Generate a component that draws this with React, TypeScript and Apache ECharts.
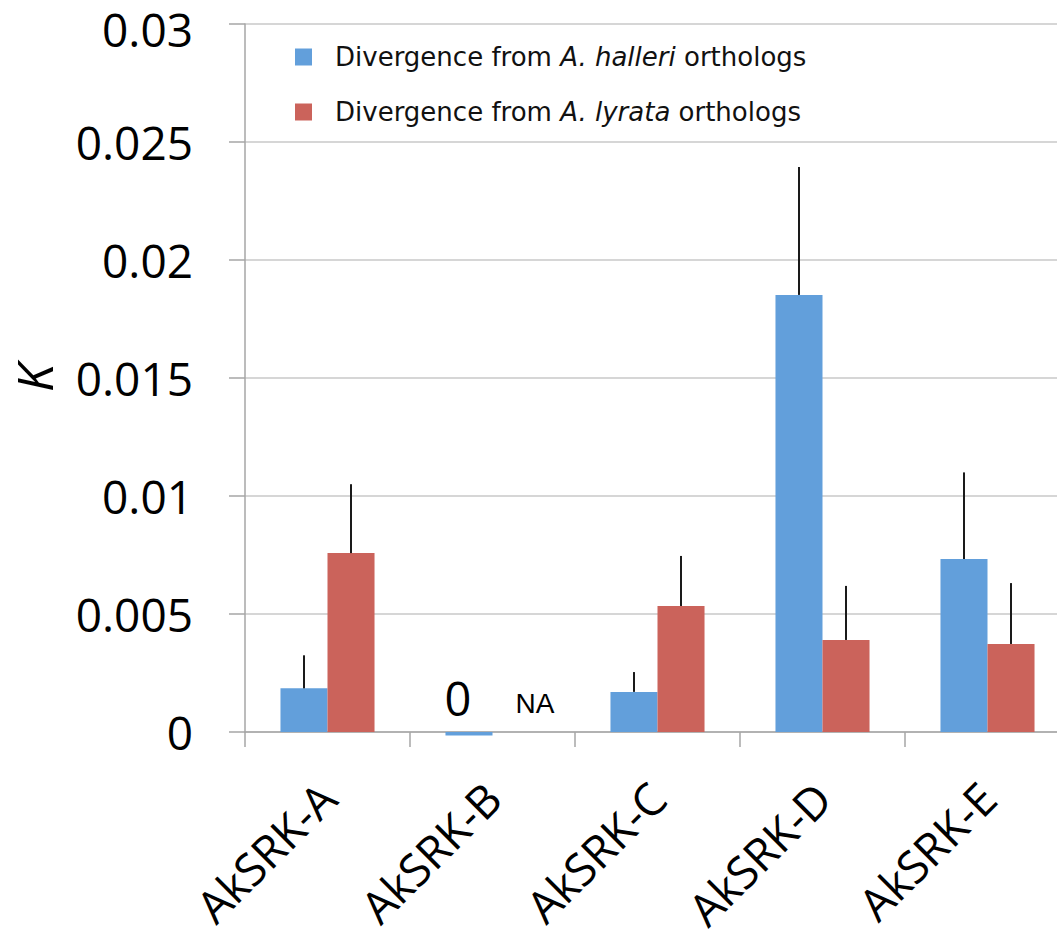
import React, { useEffect, useRef } from "react";
import * as echarts from "echarts";

const categories = ["AkSRK-A", "AkSRK-B", "AkSRK-C", "AkSRK-D", "AkSRK-E"];
const halleriValues = [0.00185, -0.00015, 0.0017, 0.01852, 0.00733];
const halleriErrors = [0.0014, 0, 0.00084, 0.00542, 0.00367];
const lyrataValues = [0.00758, 0, 0.00534, 0.0039, 0.00373];
const lyrataErrors = [0.00292, 0, 0.00212, 0.00229, 0.00258];
const yTicks = { min: 0, max: 0.03, interval: 0.005 };

const BLUE = "#629fdb";
const RED = "#cb635b";
const BAR_FRAC = 0.285;

export default function App() {
  const ref = useRef<HTMLDivElement>(null);
  useEffect(() => {
    document.body.style.margin = "0";
    if (!ref.current) return;
    const chart = echarts.init(ref.current, null, { renderer: "svg" });

    const errorSeries = (vals: number[], errs: number[], sign: number, name: string) => ({
      type: "custom",
      name,
      z: 5,
      silent: true,
      clip: false,
      data: vals.map((v, i) => [i, v, errs[i]]),
      renderItem: (params: any, api: any) => {
        const idx = api.value(0);
        const v = api.value(1);
        const e = api.value(2);
        if (!e) return null;
        const band = api.size([1, 0])[0];
        const off = (sign * band * BAR_FRAC) / 2;
        const p0 = api.coord([idx, v]);
        const p1 = api.coord([idx, v + e]);
        return {
          type: "line",
          shape: { x1: p0[0] + off, y1: p0[1], x2: p1[0] + off, y2: p1[1] },
          style: { stroke: "#1a1a1a", lineWidth: 2 },
        };
      },
    });

    const legendText = {
      fontFamily: "DejaVu Sans",
      fontSize: 26,
      color: "#111",
    };

    chart.setOption({
      animation: false,
      backgroundColor: "#ffffff",
      grid: {
        left: 245,
        top: 24,
        bottom: 208,
        width: 825,
        containLabel: false,
        outerBoundsMode: "none",
      },
      legend: {
        orient: "vertical",
        left: 290,
        top: 39,
        itemWidth: 17,
        itemHeight: 17,
        itemGap: 29,
        icon: "rect",
        data: ["halleri", "lyrata"],
        textStyle: {
          ...legendText,
          padding: [0, 0, 0, 18],
          rich: {
            n: { ...legendText },
            i: { ...legendText, fontStyle: "italic" },
          },
        },
        formatter: (name: string) =>
          name === "halleri"
            ? "{n|Divergence from }{i|A. halleri}{n| orthologs}"
            : "{n|Divergence from }{i|A. lyrata}{n| orthologs}",
      },
      xAxis: {
        type: "category",
        data: categories,
        axisLine: { show: true, lineStyle: { color: "#a6a6a6", width: 1.5 } },
        axisTick: { show: true, length: 15, lineStyle: { color: "#a6a6a6", width: 1.5 } },
        axisLabel: {
          rotate: 45,
          margin: 58,
          fontSize: 45,
          lineHeight: 34,
          fontFamily: "Open Sans",
          color: "#000",
        },
      },
      yAxis: {
        type: "value",
        min: yTicks.min,
        max: yTicks.max,
        interval: yTicks.interval,
        name: "K",
        nameLocation: "middle",
        nameRotate: 90,
        nameGap: 186,
        nameTextStyle: { fontSize: 50, fontStyle: "italic", fontFamily: "Open Sans", color: "#000" },
        axisLine: { show: true, lineStyle: { color: "#a6a6a6", width: 1.5 } },
        axisTick: { show: true, length: 16, lineStyle: { color: "#a6a6a6", width: 1.5 } },
        splitLine: { show: true, lineStyle: { color: "#c8c8c8", width: 1.5 } },
        axisLabel: {
          fontSize: 46,
          lineHeight: 36,
          fontFamily: "Open Sans",
          color: "#000",
          margin: 52,
          rich: {
            t: {
              fontSize: 46,
              lineHeight: 36,
              fontFamily: "Open Sans",
              color: "#000",
              padding: [10, 0, 0, 0],
            },
          },
          formatter: (v: number) => {
            const s = String(parseFloat(v.toFixed(4)));
            return v >= yTicks.max ? "{t|" + s + "}" : s;
          },
        },
      },
      series: [
        {
          name: "halleri",
          type: "bar",
          clip: false,
          barWidth: BAR_FRAC * 100 + "%",
          barGap: "0%",
          itemStyle: { color: BLUE },
          data: halleriValues.map((v, i) =>
            i === 1
              ? {
                  value: v,
                  label: {
                    show: true,
                    position: "insideBottom",
                    formatter: "0",
                    fontSize: 47,
                    fontFamily: "Open Sans",
                    color: "#000",
                    offset: [-11, -9],
                  },
                }
              : v
          ),
        },
        {
          name: "lyrata",
          type: "bar",
          clip: false,
          barWidth: BAR_FRAC * 100 + "%",
          barGap: "0%",
          itemStyle: { color: RED },
          data: lyrataValues.map((v, i) =>
            i === 1
              ? {
                  value: v,
                  label: {
                    show: true,
                    position: "top",
                    formatter: "NA",
                    fontSize: 28,
                    fontFamily: "Liberation Sans",
                    color: "#000",
                    offset: [19, -10],
                  },
                }
              : v
          ),
        },
        errorSeries(halleriValues, halleriErrors, -1, "halleriErr"),
        errorSeries(lyrataValues, lyrataErrors, 1, "lyrataErr"),
      ],
    });
    return () => chart.dispose();
  }, []);
  return <div ref={ref} style={{ width: 1057, height: 940 }} />;
}
